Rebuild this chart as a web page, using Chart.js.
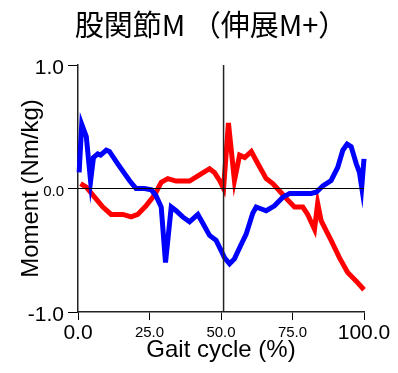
<!DOCTYPE html>
<html>
<head>
<meta charset="utf-8">
<script src="https://cdn.jsdelivr.net/npm/chart.js@4/dist/chart.umd.min.js"></script>
<style>
  html, body { margin: 0; padding: 0; background: #fff; }
  canvas { display: block; }
</style>
</head>
<body>
<canvas id="chart" width="398" height="373"></canvas>
<script>
// Hip joint moment over one gait cycle (extension positive)
const titleText = '股関節M （伸展M+）';
const xAxisTitle = 'Gait cycle (%)';
const yAxisTitle = 'Moment (Nm/kg)';

const xTicks = [0, 25, 50, 75, 100];
const yTicks = [-1, 0, 1];

// stance / swing boundary (toe-off), % of gait cycle
const toeOffPct = 50.9;

// red trace
const redPct = [0.9, 2.9, 5.8, 8.7, 11.6, 15.7, 18.6, 20.9, 23.8, 26.2, 27.3, 29.1, 31.4, 34.3,
  39.0, 42.5, 46.0, 47.7, 49.5, 50.9, 52.6, 54.7, 56.5, 58.3, 60.6, 62.9, 65.8, 68.1, 70.5,
  72.8, 75.7, 78.6, 80.3, 82.7, 83.8, 85.0, 88.5, 91.4, 94.3, 97.3, 100];
const redMoment = [0.04, 0.01, -0.07, -0.15, -0.21, -0.21, -0.23, -0.21, -0.14, -0.07, -0.03, 0.05, 0.08, 0.06,
  0.06, 0.11, 0.16, 0.13, 0.065, 0.0, 0.53, 0.065, 0.27, 0.25, 0.30, 0.20, 0.08, 0.04, -0.02,
  -0.08, -0.15, -0.15, -0.21, -0.33, -0.12, -0.26, -0.42, -0.56, -0.68, -0.75, -0.82];

// blue trace
const bluePct = [0.4, 1.3, 2.9, 4.4, 5.4, 6.9, 7.9, 9.9, 11.0, 13.9, 16.3, 18.0, 20.3, 23.3, 25.6,
  27.3, 29.1, 30.6, 32.6, 34.3, 36.6, 39.0, 41.9, 43.6, 46.0, 48.3, 50.6, 51.2, 53.0, 54.7,
  56.5, 58.8, 61.1, 62.3, 65.8, 68.7, 71.6, 74.0, 77.4, 81.5, 83.3, 85.6, 88.5, 90.8, 92.6,
  94.1, 95.5, 97.3, 98.4, 99.2, 100];
const blueMoment = [0.13, 0.52, 0.42, 0.06, 0.25, 0.28, 0.27, 0.31, 0.30, 0.20, 0.12, 0.065, 0.0, 0.0, -0.01,
  -0.06, -0.15, -0.60, -0.15, -0.18, -0.23, -0.27, -0.21, -0.28, -0.38, -0.42, -0.53, -0.56, -0.61, -0.57,
  -0.48, -0.37, -0.20, -0.15, -0.18, -0.14, -0.07, -0.04, -0.04, -0.04, -0.03, 0.02, 0.065, 0.17, 0.31,
  0.36, 0.34, 0.20, 0.13, 0.01, 0.24];

const pts = (xs, ys) => xs.map((x, i) => ({ x, y: ys[i] }));

const latin = '"Liberation Sans", Arial, sans-serif';
const bigTick = { family: latin, size: 21, lineHeight: '26px' };
const smallTick = { family: latin, size: 15, lineHeight: '26px' };

const lineBase = { pointRadius: 0, pointHoverRadius: 0, tension: 0, fill: false };

new Chart(document.getElementById('chart'), {
  type: 'line',
  data: {
    datasets: [
      { ...lineBase, data: pts([xTicks[0], xTicks[xTicks.length - 1]], [0, 0]), borderColor: '#000', borderWidth: 1 },
      { ...lineBase, data: pts([toeOffPct, toeOffPct], [yTicks[0], yTicks[yTicks.length - 1]]), borderColor: '#222', borderWidth: 1.5 },
      { ...lineBase, data: pts(bluePct, blueMoment), borderColor: '#0000ff', borderWidth: 5, clip: 8 },
      { ...lineBase, data: pts(redPct, redMoment), borderColor: '#ff0000', borderWidth: 5, clip: 8 }
    ]
  },
  options: {
    responsive: false,
    animation: false,
    devicePixelRatio: 1,
    events: [],
    layout: { padding: { left: 24, right: 0, top: 0, bottom: 0 } },
    plugins: {
      legend: { display: false },
      tooltip: { enabled: false },
      title: {
        display: true,
        text: titleText,
        color: '#000',
        font: { family: '"Noto Sans CJK JP", sans-serif', size: 29, weight: 'normal', lineHeight: 1.2 },
        padding: { top: 7.5, bottom: 22.7 }
      }
    },
    scales: {
      x: {
        type: 'linear',
        min: xTicks[0],
        max: xTicks[xTicks.length - 1],
        afterBuildTicks: s => { s.ticks = xTicks.map(v => ({ value: v })); },
        afterFit: s => { s.height = 61; },
        ticks: {
          color: '#000',
          padding: 0,
          maxRotation: 0,
          autoSkip: false,
          callback: v => Number(v).toFixed(1),
          font: ctx => (ctx.tick && (ctx.tick.value === xTicks[0] || ctx.tick.value === xTicks[xTicks.length - 1])) ? bigTick : smallTick
        },
        grid: { drawOnChartArea: false, drawTicks: true, tickLength: 8, color: '#000', lineWidth: 1 },
        border: { display: true, color: '#222', width: 1.5 },
        title: {
          display: true,
          text: xAxisTitle,
          color: '#000',
          font: { family: latin, size: 24, lineHeight: 1.2 },
          padding: { top: 0, bottom: 8.6 }
        }
      },
      y: {
        type: 'linear',
        position: 'left',
        min: yTicks[0],
        max: yTicks[yTicks.length - 1],
        afterBuildTicks: s => { s.ticks = yTicks.map(v => ({ value: v })); },
        afterFit: s => { s.width = 54; },
        ticks: {
          color: '#000',
          padding: 4,
          labelOffset: 3,
          autoSkip: false,
          callback: v => Number(v).toFixed(1),
          font: ctx => (ctx.tick && ctx.tick.value === 0) ? smallTick : bigTick
        },
        grid: { drawOnChartArea: false, drawTicks: true, tickLength: 10, color: '#000', lineWidth: 1 },
        border: { display: true, color: '#222', width: 1.5 },
        title: {
          display: true,
          text: yAxisTitle,
          color: '#000',
          font: { family: latin, size: 24, lineHeight: 1.2 },
          padding: { top: -7.4, bottom: 0 }
        }
      },
      spacer: {
        type: 'linear',
        position: 'right',
        display: true,
        afterFit: s => { s.width = 34; },
        ticks: { display: false },
        grid: { display: false, drawTicks: false },
        border: { display: false }
      }
    }
  }
});
</script>
</body>
</html>
